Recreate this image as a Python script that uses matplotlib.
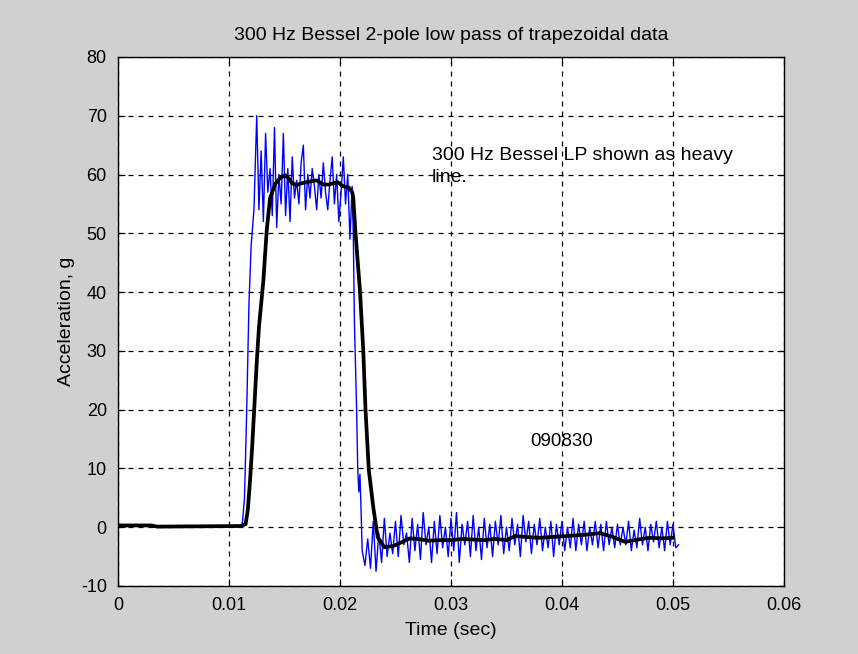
import matplotlib.pyplot as plt
import numpy as np

# Сырые данные (синяя линия): время, с и ускорение, g
# участок до удара
pre_t = [0.0, 0.001, 0.002, 0.003, 0.004, 0.005, 0.006, 0.007, 0.008, 0.009, 0.010, 0.0110,
         0.0112, 0.0114, 0.0116, 0.0118, 0.0120, 0.01225]
pre_v = [0.4, 0.3, 0.4, 0.1, 0.2, 0.0, 0.3, 0.1, 0.2, 0.0, 0.2, 0.3,
         0.5, 5, 20, 38, 48, 54]
# полка трапеции, шаг 0.0002 с начиная с 0.0125
top_t0 = 0.0125
top_dt = 0.0002
top_v = [70, 54, 64, 52, 67, 57, 61, 53, 68, 51, 60, 55, 67, 53, 61, 52, 63, 56, 59, 55,
         62, 65, 54, 60, 56, 61, 58, 54, 60, 56, 62, 57, 54, 59, 63, 55, 60, 52, 57, 63,
         55, 60, 49, 58]
# спад
fall_t = [0.0212, 0.0213, 0.0215, 0.0216, 0.0217, 0.0218, 0.0219]
fall_v = [50, 35, 20, 10, 6, 9, 3]
# хвост после спада, шаг 0.00025 с начиная с 0.0220
tail_t0 = 0.0220
tail_dt = 0.00025
tail_v = [-4, -6.5, -2, -7, 1, -7.5, -1, -6, 1.5, -5, -1, -4.5, 1, -5, 2, -3, -1, -6, 1.5, -4,
          0.5, -5.5, 2.5, -3, 0, -6, 1, -4.5, 2, -3.5, 0, -5, 1.5, -4, 2.5, -6, 0.5, -3, 1, -5,
          2, -4, 0, -5.5, 1.5, -3.5, 0.5, -5, 1, -3, 2, -4.5, 0, -4, 1.5, -3, 0.5, -5, 2, -2.5,
          1, -4.5, 0.5, -3, 1.5, -4, 0, -3.5, 1, -5, 0.5, -3, 1, -4, 0, -3.5, 1.5, -4, 0.5, -3,
          1, -4, 0, -3, 1, -3.5, 0.5, -4, 1, -3, 0, -3.5, 0.5, -3, 0, -3, 1, -4, -0.5, -3.5,
          1.5, -3, 0, -4, 0.5, -2.5, 1, -3.5, 0, -4, 1, -3, 0.5, -3.5, -3]

# Фильтрованные данные (Бессель 300 Гц, черная линия)
flt_t = [0.0, 0.003, 0.0035, 0.011, 0.0115, 0.0117, 0.0119, 0.0121, 0.0123, 0.0125, 0.0127,
         0.0129, 0.0131, 0.0134, 0.0137, 0.0142, 0.0146, 0.01505, 0.0153, 0.0157, 0.0161, 0.0165,
         0.0170, 0.0175, 0.0179, 0.0185, 0.0190, 0.0198, 0.0203, 0.0208, 0.0211, 0.0212, 0.0214,
         0.0218, 0.0221, 0.0223, 0.0226, 0.0230, 0.0234, 0.0240, 0.0248, 0.0255, 0.0263, 0.0270,
         0.0280, 0.0290, 0.0300, 0.0310, 0.0320, 0.0330, 0.0340, 0.0350, 0.0358, 0.0370, 0.0380,
         0.0404, 0.0420, 0.0434, 0.0445, 0.0457, 0.0465, 0.0479, 0.0490, 0.0500]
flt_v = [0.3, 0.3, 0.1, 0.2, 0.5, 3, 8, 14, 21, 28, 34,
         38, 42, 50.5, 56, 58.5, 59.4, 59.9, 59.5, 58.5, 58.2, 58.5,
         58.7, 58.9, 59.0, 58.3, 58.3, 58.7, 58.0, 57.8, 57.0, 56, 50,
         40.3, 30, 20, 9.7, 3.4, -1.7, -3.4, -3.2, -2.6, -1.9, -2.0,
         -2.3, -2.2, -2.2, -2.0, -2.1, -2.2, -2.0, -2.2, -1.5, -1.7, -1.8,
         -1.5, -1.3, -1.0, -1.6, -2.5, -2.2, -1.8, -1.9, -1.8]

x_ticks = [0, 0.01, 0.02, 0.03, 0.04, 0.05, 0.06]
x_labels = ['0', '0.01', '0.02', '0.03', '0.04', '0.05', '0.06']
y_ticks = [-10, 0, 10, 20, 30, 40, 50, 60, 70, 80]

plt.rcParams['font.family'] = ['Liberation Sans', 'DejaVu Sans']
plt.rcParams['axes.unicode_minus'] = False

# склеиваем участки сырого сигнала
top_t = [top_t0 + i * top_dt for i in range(len(top_v))]
tail_t = [tail_t0 + i * tail_dt for i in range(len(tail_v))]
t_raw = np.array(pre_t + top_t + fall_t + tail_t)
v_raw = np.array(pre_v + top_v + fall_v + tail_v)

fig = plt.figure(figsize=(8.58, 6.54), dpi=100, facecolor='#d0d0d0')
ax = fig.add_axes([0.1375, 0.104, 0.7762, 0.8089])

ax.plot(t_raw, v_raw, color='#0000ff', lw=1.0)
ax.plot(flt_t, flt_v, color='black', lw=2.7)

ax.set_xlim(0, 0.06)
ax.set_ylim(-10, 80)
ax.set_xticks(x_ticks)
ax.set_xticklabels(x_labels)
ax.set_yticks(y_ticks)
ax.tick_params(direction='in', top=True, right=True, labelsize=13, length=5, pad=8)
ax.grid(True, color='black', linestyle=(0, (4, 4)), lw=0.9)
for s in ax.spines.values():
    s.set_linewidth(1.0)

ax.set_title('300 Hz Bessel 2-pole low pass of trapezoidal data', fontsize=14, pad=12)
ax.set_xlabel('Time (sec)', fontsize=14, labelpad=6)
ax.set_ylabel('Acceleration, g', fontsize=14, labelpad=4)

ax.text(0.0283, 61.4, '300 Hz Bessel LP shown as heavy\nline.', fontsize=14,
        va='center', ha='left', linespacing=1.35)
ax.text(0.0371, 14.5, '090830', fontsize=13.5, va='center', ha='left')

fig.savefig('out.png', dpi=100, facecolor=fig.get_facecolor())
